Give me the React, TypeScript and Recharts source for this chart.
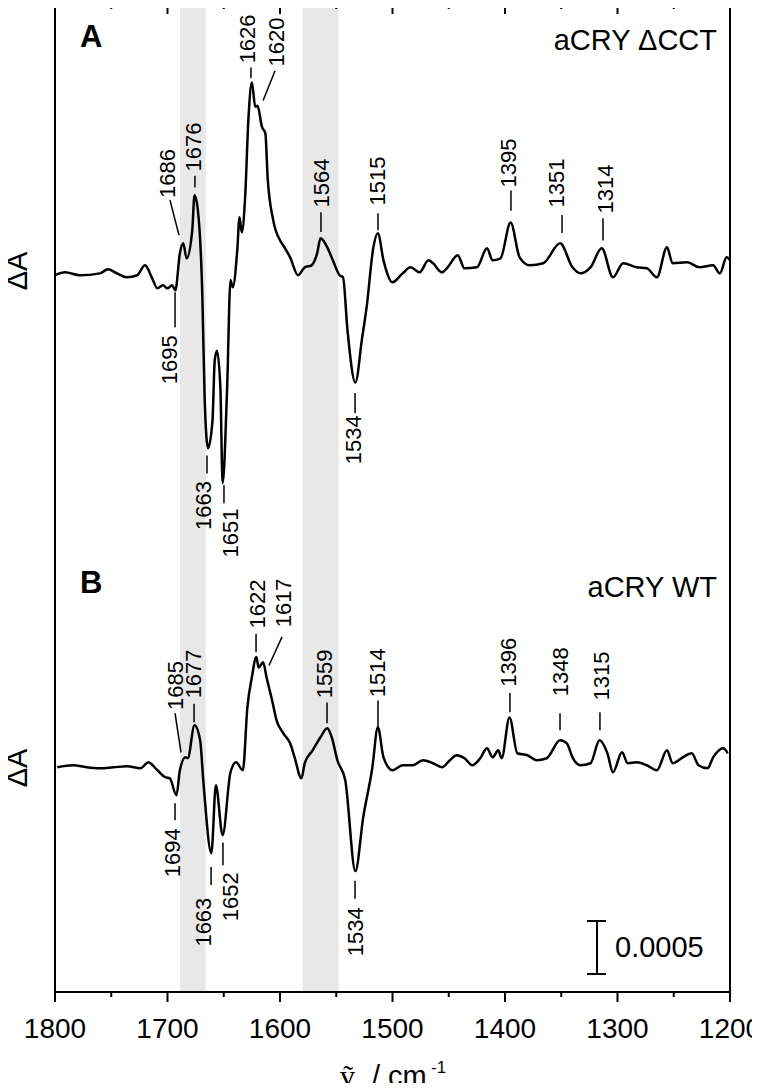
import {
  LineChart,
  Line,
  XAxis,
  YAxis,
  ReferenceArea,
  ReferenceLine,
  ReferenceDot,
} from 'recharts';

const FONT = '"Liberation Sans", Arial, Helvetica, sans-serif';

// wavenumber (cm-1) and ΔA (x 10^-4)
const WAVENUMBER_A = [
  1800, 1791, 1778, 1760, 1753, 1745, 1736, 1727, 1720, 1714, 1709, 1704, 1700, 1696, 1693,
  1689, 1686, 1683, 1678, 1676, 1673, 1669, 1667, 1664, 1660, 1658, 1656, 1653, 1651, 1647,
  1644, 1642, 1638, 1636, 1634, 1631, 1628, 1625, 1622, 1620, 1616, 1613, 1611, 1606, 1600,
  1596, 1591, 1584, 1578, 1572, 1567, 1564, 1558, 1553, 1547, 1544, 1540, 1533, 1527, 1523,
  1517, 1513, 1508, 1500, 1491, 1484, 1476, 1468, 1464, 1456, 1451, 1442, 1436, 1425, 1416,
  1411, 1404, 1395, 1387, 1378, 1366, 1351, 1340, 1333, 1324, 1314, 1304, 1295, 1283, 1274,
  1265, 1256, 1251, 1238, 1227, 1215, 1209, 1203, 1200,
];
const DELTA_A = [
  -0.09, 0.19, -0.09, 0.09, 0.47, 0.09, -0.28, -0.09, 0.85, -0.28, -1.32, -1.04, -1.32, -1.04, -1.51,
  1.98, 2.92, 1.51, 4.15, 7.45, 6.04, -2.17, -11.6, -16.4, -13.8, -8.1, -7.2, -10.7, -19.7, -10.7,
  -0.57, -1.23, 2.26, 5.38, 3.96, 7.26, 14.8, 18.1, 15.8, 15.9, 13.9, 13.3, 9.15, 5.09, 3.21,
  2.55, 1.6, -0.09, 0.66, 0.85, 1.98, 3.4, 2.55, 1.32, -0.09, -0.28, -5.28, -10.2, -6.0, -3.1,
  2.55, 3.87, 1.32, -0.75, 0.09, 0.66, 0.19, 1.32, 1.04, 0.19, 0.66, 1.8, 0.57, 0.66, 2.45,
  1.32, 1.51, 4.9, 1.6, 0.85, 1.04, 2.92, 0.66, 0.09, 0.66, 2.45, -0.28, 1.04, 0.66, 0.57,
  -0.28, 2.55, 1.04, 1.13, 0.66, 0.85, 0.09, 1.6, 1.32,
];

const WAVENUMBER_B = [
  1798, 1784, 1772, 1760, 1748, 1736, 1724, 1717, 1709, 1702, 1698, 1692, 1689, 1684, 1682,
  1676, 1671, 1668, 1661, 1657, 1651, 1644, 1639, 1633, 1629, 1625, 1621, 1619, 1615, 1612,
  1607, 1603, 1597, 1591, 1587, 1581, 1578, 1571, 1564, 1558, 1554, 1549, 1542, 1533, 1526,
  1518, 1513, 1508, 1500, 1491, 1482, 1473, 1464, 1456, 1449, 1443, 1436, 1429, 1422, 1416,
  1411, 1406, 1403, 1396, 1389, 1380, 1372, 1363, 1351, 1345, 1340, 1333, 1324, 1316, 1309,
  1304, 1296, 1291, 1283, 1274, 1265, 1256, 1251, 1242, 1234, 1228, 1220, 1215, 1206, 1202,
];
const DELTA_B = [
  0, 0.19, 0, -0.09, 0, 0.09, -0.09, 0.47, -0.28, -0.94, -1.04, -2.64, -0.28, 0.94, 0.85,
  3.96, 2.55, -1.51, -8.1, -1.7, -6.4, -0.47, 0.47, -0.28, 5.66, 8.5, 10.4, 9.4, 9.9, 8.5,
  6.3, 4.4, 3.2, 2.26, 0.94, -1.04, 0.38, 1.6, 2.83, 3.68, 2.83, 0.66, -1.23, -9.8, -4.7,
  -0.09, 3.77, 0.94, -0.28, 0.19, 0.19, 0.66, 0.38, 0, 0.66, 1.13, 0.85, 0.19, 0.85, 1.8,
  0.94, 1.6, 0.85, 4.7, 1.32, 1.13, 0.66, 0.85, 2.55, 2.26, 0.94, 0.19, 0.38, 2.55, 1.32,
  -0.47, 1.42, 0.38, 0.47, 0.19, -0.28, 1.6, 0.38, 0.94, 1.32, 0.19, -0.09, 0.94, 1.8, 1.32,
];

// vertical offset of trace A above trace B (x 10^-4)
const OFFSET_A = 46.5;

const MAJOR_TICKS = [1800, 1700, 1600, 1500, 1400, 1300, 1200];
const MINOR_TICKS = [1750, 1650, 1550, 1450, 1350, 1250];
const ALL_TICKS = [...MAJOR_TICKS, ...MINOR_TICKS].sort((a, b) => b - a);

// shaded regions (cm-1)
const BANDS: [number, number][] = [
  [1689, 1666],
  [1580, 1548],
];

// peak labels: [text, lineX1, lineY1, lineX2, lineY2, textX, textY], y relative to own trace
type Peak = [string, number, number, number, number, number, number];
const PEAKS_A: Peak[] = [
  ['1686', 1689.8, 3.7, 1697.8, 7.0, 1699.6, 7.2],
  ['1676', 1675.6, 8.2, 1675.6, 9.3, 1677.3, 9.7],
  ['1626', 1625.8, 18.5, 1625.8, 19.5, 1629.3, 19.9],
  ['1620', 1615, 16.4, 1604.4, 19.2, 1602.7, 19.6],
  ['1564', 1563.6, 4.0, 1563.6, 5.85, 1562.7, 6.3],
  ['1515', 1512.9, 4.15, 1512.9, 5.75, 1512.9, 6.5],
  ['1395', 1394.7, 6.0, 1394.7, 7.9, 1397.3, 8.2],
  ['1351', 1349.3, 3.9, 1349.3, 5.6, 1353.8, 6.3],
  ['1314', 1312.9, 3.2, 1312.9, 5.3, 1311.1, 5.75],
  ['1695', 1693.3, -1.7, 1693.3, -5.0, 1697.8, -5.75],
  ['1663', 1664.9, -17.1, 1664.9, -18.8, 1667.6, -19.5],
  ['1651', 1649.8, -19.9, 1649.8, -21.6, 1644.4, -22.1],
  ['1534', 1533.3, -11.2, 1533.3, -13.1, 1535.1, -13.3],
];
const PEAKS_B: Peak[] = [
  ['1685', 1688, 1.4, 1693.3, 5.1, 1693.3, 5.4],
  ['1677', 1676.4, 4.25, 1676.4, 6.0, 1677.3, 6.5],
  ['1622', 1621.3, 10.85, 1621.3, 12.6, 1620.4, 13.1],
  ['1617', 1609.8, 9.6, 1598.2, 12.3, 1597.3, 13.2],
  ['1559', 1558.2, 4.15, 1558.2, 6.1, 1560, 6.5],
  ['1514', 1512.9, 3.8, 1512.9, 6.3, 1512.9, 6.6],
  ['1396', 1395.6, 5.2, 1395.6, 7.0, 1397.3, 7.6],
  ['1348', 1351.1, 3.5, 1351.1, 5.1, 1351.1, 6.7],
  ['1315', 1315.6, 3.5, 1315.6, 5.2, 1313.8, 6.3],
  ['1694', 1693.3, -3.4, 1693.3, -5.0, 1695.1, -5.75],
  ['1663', 1661.3, -9.4, 1661.3, -11.1, 1668.4, -12.3],
  ['1652', 1650.7, -7.1, 1650.7, -9.25, 1643.6, -9.9],
  ['1534', 1533.3, -10.7, 1533.3, -12.4, 1533.3, -13.2],
];

// scale bar: position (cm-1) and span (x 10^-4)
const SCALE_X = 1318.2;
const SCALE_CAP: [number, number] = [1327.1, 1310.2];
const SCALE_Y: [number, number] = [-19.5, -14.5];
const SCALE_LABEL = '0.0005';

const Y_DOMAIN = [-21.2, 72];

const traceA = WAVENUMBER_A.map((w, i) => ({ w, v: DELTA_A[i] + OFFSET_A }));
const traceB = WAVENUMBER_B.map((w, i) => ({ w, v: DELTA_B[i] }));

const peakLabels = [
  ...PEAKS_A.map((p) => ({ p, off: OFFSET_A })),
  ...PEAKS_B.map((p) => ({ p, off: 0 })),
];

function rotatedText(text: string, up: boolean, size = 22) {
  return (props: any) => {
    const { cx, cy } = props;
    return (
      <text
        x={cx}
        y={cy}
        transform={`rotate(-90 ${cx} ${cy})`}
        textAnchor={up ? 'start' : 'end'}
        dominantBaseline="central"
        fontSize={size}
        fontFamily={FONT}
        fill="#000"
      >
        {text}
      </text>
    );
  };
}

function plainText(text: string) {
  return (props: any) => (
    <text
      x={props.cx}
      y={props.cy}
      textAnchor="start"
      dominantBaseline="central"
      fontSize={29}
      fontFamily={FONT}
      fill="#000"
    >
      {text}
    </text>
  );
}

// tick mark drawn from the axis line: long for labelled ticks, short otherwise
function axisTick(side: 'bottom' | 'top') {
  return (props: any) => {
    const { x, y, payload } = props;
    const major = MAJOR_TICKS.includes(payload.value);
    const len = major ? 10 : 5;
    return (
      <g>
        <line x1={x} x2={x} y1={y} y2={y + len} stroke="#000" strokeWidth={2} />
        {side === 'bottom' && major && (
          <text x={x} y={y + 46} textAnchor="middle" fontSize={28} fontFamily={FONT} fill="#000">
            {payload.value}
          </text>
        )}
      </g>
    );
  };
}

export default function App() {
  return (
    <div style={{ position: 'relative', width: 760, height: 1091, margin: -8, background: '#fff' }}>
      <LineChart width={760} height={1091} margin={{ top: 0, right: 20, bottom: 39, left: 45 }}>
        {BANDS.map(([a, b], i) => (
          <ReferenceArea key={`band${i}`} x1={a} x2={b} fill="#e8e8e8" fillOpacity={1} stroke="none" ifOverflow="visible" />
        ))}
        <XAxis
          xAxisId={0}
          type="number"
          dataKey="w"
          domain={[1200, 1800]}
          reversed
          allowDataOverflow
          ticks={ALL_TICKS}
          interval={0}
          height={60}
          tickSize={0}
          tickMargin={0}
          tickLine={false}
          axisLine={{ stroke: '#000', strokeWidth: 2 }}
          tick={axisTick('bottom')}
        />
        <XAxis
          xAxisId="top"
          orientation="top"
          type="number"
          dataKey="w"
          domain={[1200, 1800]}
          reversed
          allowDataOverflow
          ticks={ALL_TICKS}
          interval={0}
          height={4}
          tickSize={0}
          tickMargin={0}
          tickLine={false}
          axisLine={{ stroke: '#000', strokeWidth: 2 }}
          tick={axisTick('top')}
        />
        <YAxis
          yAxisId={0}
          type="number"
          domain={Y_DOMAIN}
          allowDataOverflow
          width={10}
          tick={false}
          tickLine={false}
          axisLine={{ stroke: '#000', strokeWidth: 2 }}
        />
        <YAxis
          yAxisId="right"
          orientation="right"
          type="number"
          domain={Y_DOMAIN}
          allowDataOverflow
          width={10}
          tick={false}
          tickLine={false}
          axisLine={{ stroke: '#000', strokeWidth: 2 }}
        />

        <Line data={traceA} dataKey="v" type="monotone" dot={false} stroke="#000" strokeWidth={2.5} isAnimationActive={false} />
        <Line data={traceB} dataKey="v" type="monotone" dot={false} stroke="#000" strokeWidth={2.5} isAnimationActive={false} />

        {peakLabels.map(({ p, off }, i) => (
          <ReferenceLine
            key={`pl${i}`}
            segment={[{ x: p[1], y: p[2] + off }, { x: p[3], y: p[4] + off }]}
            stroke="#000"
            strokeWidth={1.5}
            ifOverflow="visible"
          />
        ))}
        {peakLabels.map(({ p, off }, i) => (
          <ReferenceDot
            key={`pt${i}`}
            x={p[5]}
            y={p[6] + off}
            r={0}
            ifOverflow="visible"
            shape={rotatedText(p[0], p[4] > p[2])}
          />
        ))}

        <ReferenceLine segment={[{ x: SCALE_X, y: SCALE_Y[0] }, { x: SCALE_X, y: SCALE_Y[1] }]} stroke="#000" strokeWidth={2} ifOverflow="visible" />
        <ReferenceLine segment={[{ x: SCALE_CAP[0], y: SCALE_Y[0] }, { x: SCALE_CAP[1], y: SCALE_Y[0] }]} stroke="#000" strokeWidth={2} ifOverflow="visible" />
        <ReferenceLine segment={[{ x: SCALE_CAP[0], y: SCALE_Y[1] }, { x: SCALE_CAP[1], y: SCALE_Y[1] }]} stroke="#000" strokeWidth={2} ifOverflow="visible" />
        <ReferenceDot x={1302.2} y={(SCALE_Y[0] + SCALE_Y[1]) / 2} r={0} ifOverflow="visible" shape={plainText(SCALE_LABEL)} />
      </LineChart>

      <svg width={760} height={1091} style={{ position: 'absolute', left: 0, top: 0, pointerEvents: 'none' }}>
        <g fontFamily={FONT} fill="#000">
          <text x={80} y={47} fontSize={31} fontWeight="bold">A</text>
          <text x={80} y={593} fontSize={31} fontWeight="bold">B</text>
          <text x={717} y={50} fontSize={29} textAnchor="end">aCRY ΔCCT</text>
          <text x={717} y={597} fontSize={29} textAnchor="end">aCRY WT</text>
          <text x={17} y={271} fontSize={29} textAnchor="middle" dominantBaseline="central" transform="rotate(-90 17 271)">ΔA</text>
          <text x={17} y={768} fontSize={29} textAnchor="middle" dominantBaseline="central" transform="rotate(-90 17 768)">ΔA</text>
          <text x={340} y={1086} fontSize={30} fontFamily='"Liberation Serif", "DejaVu Serif", serif'>ṽ</text>
          <text x={372} y={1086} fontSize={29}>/ cm</text>
          <text x={431} y={1073} fontSize={17}>-1</text>
        </g>
      </svg>
    </div>
  );
}
